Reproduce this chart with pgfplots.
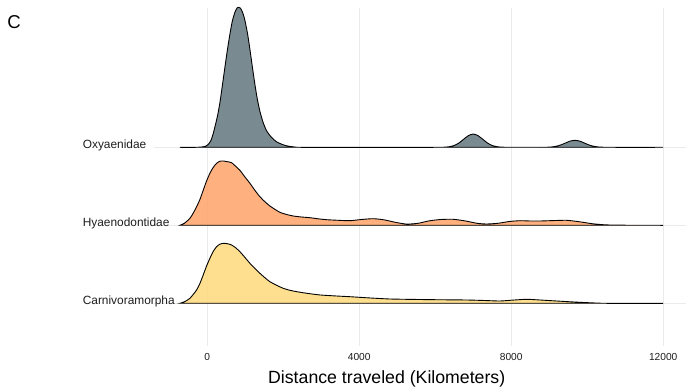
\documentclass[border=0pt]{standalone}
\usepackage{fontspec}
\setmainfont{Liberation Sans}
\usepackage{pgfplots}
\pgfplotsset{compat=1.18}
\definecolor{oxy}{RGB}{108,125,133}
\definecolor{hya}{RGB}{255,167,113}
\definecolor{car}{RGB}{253,219,131}
\definecolor{gridc}{RGB}{235,235,235}
\definecolor{txt}{RGB}{30,30,30}
\begin{document}
\begin{tikzpicture}[x=1pt,y=1pt]
\useasboundingbox (0,0) rectangle (686,391);
\begin{axis}[at={(154pt,45pt)}, anchor=south west, scale only axis,
  width=532pt, height=338pt,
  xmin=-1400, xmax=12600, ymin=0, ymax=338,
  axis line style={draw=none}, major tick length=0pt,
  xtick={0,4000,8000,12000}, ytick={42.7,120.7,198.7}, yticklabels={},
  xmajorgrids, ymajorgrids, grid style={color=gridc, line width=1pt},
  scaled x ticks=false,
  /pgf/number format/assume math mode=true,
  /pgf/number format/set thousands separator={},
  xticklabel style={font=\fontsize{10.2}{12}\selectfont, text=txt, anchor=base, inner sep=0pt, yshift=-14pt},
  clip=false]

% Carnivoramorpha (baseline 42.7)
\addplot[smooth, tension=0.4, draw=black, line width=0.9pt, fill=car, fill opacity=0.9] table[y expr=\thisrowno{1}+42.7] {
-718 0
-600 1.5
-455 5
-279 13.3
-190 20
-105 28.3
-20 37
71 45
160 52
247 56.6
330 59
421 60
530 59.6
642 58.3
750 55.5
861 51.6
990 46
1124 40
1255 35
1387 30
1520 25.5
1650 21.6
1830 18
2000 15
2200 12.8
2450 11
2700 9.6
2980 8.3
3400 7.3
3755 6.6
4300 5.3
4808 4.3
5400 3.9
6000 3.6
6826 3.3
7300 2.8
7703 2.3
8050 3.2
8405 4
8800 3.2
9195 2.3
9700 1.2
10150 0.4
10510 0
12000 0
} -- cycle;

% Hyaenodontidae (baseline 120.7)
\addplot[smooth, tension=0.4, draw=black, line width=0.9pt, fill=hya, fill opacity=0.9] table[y expr=\thisrowno{1}+120.7] {
-718 0
-600 2
-455 7
-370 12
-279 18.6
-190 26
-105 35
-20 44
71 52
160 58
247 62
330 64
421 64.3
530 63.6
642 62.6
750 59
861 55
990 48.5
1124 42
1255 35
1387 28.6
1520 23.5
1650 19.3
1780 16
1913 13
2090 10.8
2263 9.3
2480 8.3
2703 7.6
2920 6.5
3142 5.6
3450 5
3755 4.6
4060 5.8
4368 6.6
4650 5.5
4950 3
5247 1.2
5550 2
5850 4.5
6150 5.8
6474 6
6800 4.3
7100 2
7353 1.3
7650 2
7950 3.8
8229 4.6
8500 4.3
8755 4.3
9100 4.7
9458 5
9800 3.5
10150 1.5
10510 0.4
11000 0.1
11913 0
12000 0
} -- cycle;

% Oxyaenidae (baseline 198.7)
\addplot[smooth, tension=0.4, draw=black, line width=0.9pt, fill=oxy, fill opacity=0.9] table[y expr=\thisrowno{1}+198.7] {
-718 0
-300 0
-150 0.3
-50 1
30 3
100 7
160 14
220 23
280 33
340 46
400 62
466 80
530 97
597 113
660 126
729 135
790 139.5
834 140
880 139
940 134
992 127
1060 114
1124 98
1190 80
1255 63
1320 48
1387 36
1470 25
1563 16.5
1690 10
1826 5.5
1980 2.8
2124 1.2
2300 0.3
2440 0
6000 0
6250 0.15
6375 0.6
6500 1.8
6625 4.3
6750 8.1
6875 11.7
7000 13.3
7125 11.7
7250 8.1
7375 4.3
7500 1.8
7625 0.6
7750 0.15
8000 0
8926 0.08
9051 0.3
9176 0.95
9301 2.3
9426 4.25
9551 6.2
9676 7
9801 6.2
9926 4.25
10051 2.3
10176 0.95
10301 0.3
10426 0.08
10700 0
12000 0
} -- cycle;

\node[anchor=base west, inner sep=0pt, font=\fontsize{11.9}{14}\selectfont, text=txt] at (axis cs:-3279,197.4) {Oxyaenidae};
\node[anchor=base west, inner sep=0pt, font=\fontsize{11.9}{14}\selectfont, text=txt] at (axis cs:-3279,119.4) {Hyaenodontidae};
\node[anchor=base west, inner sep=0pt, font=\fontsize{11.9}{14}\selectfont, text=txt] at (axis cs:-3279,41.4) {Carnivoramorpha};
\node[anchor=base, inner sep=0pt, font=\fontsize{17.7}{20}\selectfont, text=black] at (axis cs:4724,-37) {Distance traveled (Kilometers)};
\end{axis}
\node[anchor=base west, inner sep=0pt, font=\fontsize{18.6}{22}\selectfont] at (7.3,362.7) {C};
\end{tikzpicture}
\end{document}
